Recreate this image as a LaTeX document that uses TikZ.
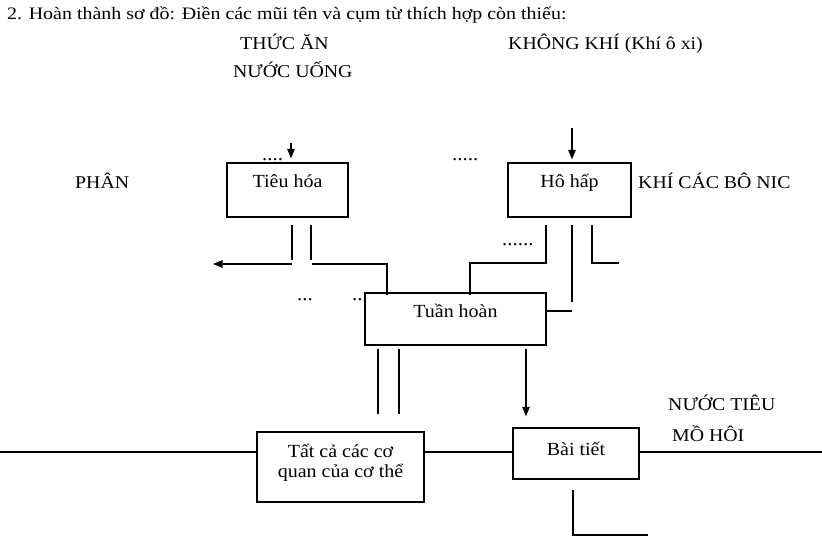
\documentclass[tikz,border=0pt]{standalone}
\usepackage{fontspec}
\setmainfont{Liberation Serif}[FakeStretch=1.08]
\newfontfamily\lfont{Liberation Serif}[FakeStretch=1.1]
\newfontfamily\tfont{Liberation Serif}[FakeStretch=1.14]
\usetikzlibrary{arrows.meta}
\begin{document}
\begin{tikzpicture}[x=1pt,y=-1pt,
  box/.style={draw,line width=1.3pt,inner sep=0pt,font=\fontsize{18.5}{20}\selectfont},
  ln/.style={line width=1.1pt},
  arr/.style={line width=1.1pt,-{Triangle[length=9.5pt,width=7.5pt]}},
  lbl/.style={anchor=base west,inner sep=0pt,font=\lfont\fontsize{18}{20}\selectfont},
  dts/.style={anchor=base west,inner sep=0pt,font=\lfont\fontsize{19}{20}\selectfont}]
\useasboundingbox (0,0) rectangle (822,543);
% title and labels
\node[anchor=base west,inner sep=0pt,font=\tfont\fontsize{17.5}{20}\selectfont] (title) at (7,20) {2. Hoàn thành sơ đồ: Điền các mũi tên và cụm từ thích hợp còn thiếu:};
\node[lbl] (thucan) at (240,49.3) {THỨC ĂN};
\node[lbl] (nuocuong) at (233,77.3) {NƯỚC UỐNG};
\node[lbl] (khongkhi) at (508,49.3) {KHÔNG KHÍ (Khí ô xi)};
\node[lbl] (phan) at (75,188.3) {PHÂN};
\node[lbl] (khico) at (638,188.3) {KHÍ CÁC BÔ NIC};
\node[lbl] (nuoctieu) at (668,410) {NƯỚC TIÊU};
\node[lbl] (mohoi) at (672,441) {MỒ HÔI};
% dotted blanks
\node[dts] (d1) at (262,160) {....};
\node[dts] (d2) at (452,160) {.....};
\node[dts] (d3) at (502,245) {......};
\node[dts] (d4) at (297,300) {...};
\node[dts] (d5) at (352,300) {..};
% boxes
\node[box,minimum width=121,minimum height=54,text height=12,text depth=16.6] (th) at (287.5,190) {Tiêu hóa};
\node[box,minimum width=123,minimum height=54,text height=12,text depth=16.6] (hh) at (569.5,190) {Hô hấp};
\node[box,minimum width=181,minimum height=52,text height=12,text depth=15.4] (tu) at (455.5,319) {Tuần hoàn};
\node[box,minimum width=126,minimum height=51,text height=12,text depth=9] (bt) at (576,453.5) {Bài tiết};
\node[box,minimum width=167,minimum height=70] (tc) at (340.5,467) {};
\node[inner sep=0pt,align=center,font=\fontsize{18.5}{20}\selectfont] (tct) at (340.5,463) {Tất cả các cơ\\quan của cơ thể};
% coordinates for free ends
\coordinate (thin) at (291,143);
\coordinate (hhin) at (572,128);
\coordinate (a1) at (292,225); \coordinate (a2) at (292,260);
\coordinate (a3) at (292,264); \coordinate (a4) at (213,264);
\coordinate (b1) at (311,225); \coordinate (b2) at (311,260);
\coordinate (b3) at (312,264); \coordinate (b4) at (387,264);
\coordinate (c1) at (546,225); \coordinate (c2) at (546,263); \coordinate (c3) at (470,263);
\coordinate (e1) at (572,225); \coordinate (e2) at (572,302); \coordinate (e3) at (572,311);
\coordinate (f1) at (592,225); \coordinate (f2) at (592,263); \coordinate (f3) at (619,263);
\coordinate (g1) at (378,349); \coordinate (g2) at (378,414);
\coordinate (h1) at (399,349); \coordinate (h2) at (399,414);
\coordinate (p1) at (526,349);
\coordinate (k1) at (0,452); \coordinate (k2) at (822,452);
\coordinate (m1) at (573,490); \coordinate (m2) at (573,535); \coordinate (m3) at (648,535);
% connectors
\draw[arr,shorten >=4pt] (thin) -- (thin |- th.north);
\draw[arr,shorten >=3pt] (hhin) -- (hhin |- hh.north);
\draw[ln] (a1) -- (a2);
\draw[arr] (a3) -- (a4);
\draw[ln] (b1) -- (b2);
\draw[ln] (b3) -- (b4) -- ([yshift=-3pt]b4 |- tu.north);
\draw[ln] (c1) -- (c2) -- (c3) -- ([yshift=-3pt]c3 |- tu.north);
\draw[ln] (e1) -- (e2);
\draw[ln] (tu.east |- e3) -- (e3);
\draw[ln] (f1) -- (f2) -- (f3);
\draw[ln] (g1) -- (g2);
\draw[ln] (h1) -- (h2);
\draw[arr,shorten >=11pt] (p1) -- (p1 |- bt.north);
\draw[ln] (k1) -- (tc.west |- k1);
\draw[ln] (tc.east |- k1) -- (bt.west |- k1);
\draw[ln] (bt.east |- k1) -- (k2);
\draw[ln] (m1) -- (m2) -- (m3);
\end{tikzpicture}
\end{document}
